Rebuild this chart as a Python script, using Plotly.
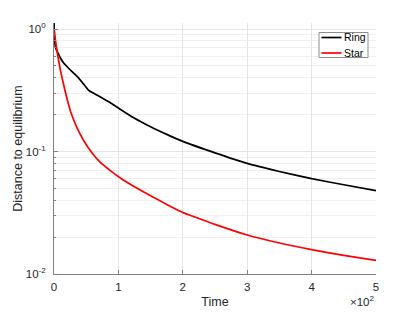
import plotly.graph_objects as go

ring_t = [0, 1, 3, 6, 10, 15, 25, 36, 45, 54, 70, 88, 104, 119, 135, 150, 175, 200, 250, 300, 350, 400, 450, 500]
ring_v = [1.2, 0.8, 0.69, 0.64, 0.58, 0.527, 0.465, 0.41, 0.36, 0.315, 0.282, 0.249, 0.219, 0.195, 0.175, 0.159,
          0.138, 0.121, 0.0975, 0.080, 0.0687, 0.060, 0.0535, 0.048]

star_t = [0, 3, 6, 10, 14, 18, 26, 36, 46, 60, 72, 88, 103, 125, 150, 175, 200, 225, 250, 300, 350, 400, 450, 500]
star_v = [1.0, 0.76, 0.60, 0.46, 0.37, 0.30, 0.21, 0.155, 0.123, 0.096, 0.0815, 0.0695, 0.0608, 0.0515, 0.0435, 0.037,
          0.0318, 0.0284, 0.0254, 0.0208, 0.0179, 0.0158, 0.0142, 0.0129]

x_ticks = [0, 100, 200, 300, 400, 500]
x_labels = ["0", "1", "2", "3", "4", "5"]
y_ticks = [0.01, 0.1, 1]
y_labels = ["10<sup>-2</sup>", "10<sup>-1</sup>", "10<sup>0</sup>"]
series_names = ["Ring", "Star"]
series_colors = ["#000000", "#ff0000"]

FONT = "Liberation Sans, Arial, sans-serif"
AX = "#808080"
GRID = "#e6e6e6"

# page body has an 8px margin: compensate
W, H = 407, 304
L, T = 46, 15
PW, PH = 322, 251

fig = go.Figure()
fig.add_trace(go.Scatter(x=ring_t, y=ring_v, mode="lines", name=series_names[0],
                         line=dict(color=series_colors[0], width=1.7, shape="spline", smoothing=0.5)))
fig.add_trace(go.Scatter(x=star_t, y=star_v, mode="lines", name=series_names[1],
                         line=dict(color=series_colors[1], width=1.7, shape="spline", smoothing=0.5)))

fig.update_layout(
    width=W, height=H,
    margin=dict(l=L, r=W - L - PW, t=T, b=H - T - PH, autoexpand=False),
    paper_bgcolor="white", plot_bgcolor="white",
    showlegend=False,
    font=dict(family=FONT, size=11, color="#262626"),
)
fig.update_xaxes(
    range=[0, 500], tickvals=x_ticks, ticktext=x_labels, automargin=False,
    showline=True, linecolor=AX, linewidth=1, mirror=False,
    ticks="inside", ticklen=4, tickcolor=AX, ticklabelstandoff=2,
    showgrid=True, gridcolor=GRID, gridwidth=1, zeroline=False,
    title=dict(text="Time", font=dict(size=12.5, family=FONT), standoff=5),
    tickfont=dict(size=11.5),
)
fig.update_yaxes(
    type="log", range=[-2, 0.049], tickvals=y_ticks, ticktext=y_labels, automargin=False,
    showline=True, linecolor=AX, linewidth=1, mirror=False,
    ticks="inside", ticklen=4, tickcolor=AX, ticklabelstandoff=5,
    showgrid=True, gridcolor=GRID, gridwidth=1, zeroline=False,
    minor=dict(showgrid=True, gridcolor="#f0f0f0", ticks="inside", ticklen=2, tickcolor=AX, dtick="D1"),
    title=dict(text="Distance to equilibrium", font=dict(size=12.5, family=FONT), standoff=0),
    tickfont=dict(size=11.5),
)

# x10^2 multiplier
fig.add_annotation(x=1.0, y=0, xref="paper", yref="paper", yshift=-18, xshift=1,
                   text="×10<sup>2</sup>", showarrow=False, xanchor="right", yanchor="top",
                   font=dict(size=11.5, family=FONT, color="#262626"))

# legend box (paper coordinates; pixel values are page positions)
px0, px1 = 54, 376
py0, py1 = 274, 23
def fx(p): return (p - px0) / (px1 - px0)
def fy(p): return (py0 - p) / (py0 - py1)

fig.add_shape(type="rect", xref="paper", yref="paper", x0=fx(319), x1=fx(368), y0=fy(57.5), y1=fy(32.5),
              line=dict(color="#8c8c8c", width=1), fillcolor="white", layer="above")
for i, (nm, col) in enumerate(zip(series_names, series_colors)):
    yy = 37.5 + i * 15.5
    fig.add_shape(type="line", xref="paper", yref="paper", x0=fx(321.5), x1=fx(341.5), y0=fy(yy), y1=fy(yy),
                  line=dict(color=col, width=1.7), layer="above")
    fig.add_annotation(x=fx(342), y=fy(yy), xref="paper", yref="paper", text=nm, showarrow=False,
                       xanchor="left", yanchor="middle", font=dict(size=10.5, family=FONT, color="#000000"))

fig.write_html("out.html")
